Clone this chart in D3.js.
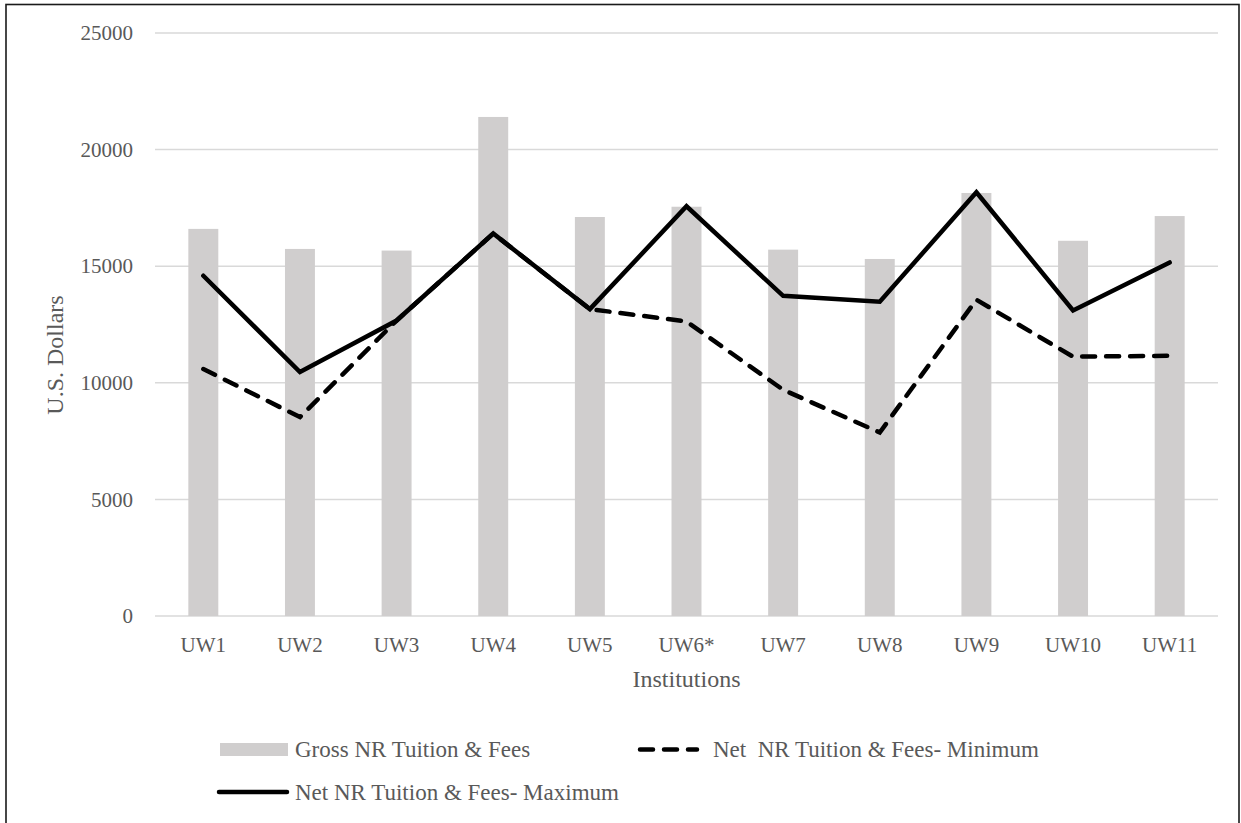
<!DOCTYPE html>
<html>
<head>
<meta charset="utf-8">
<script src="https://cdn.jsdelivr.net/npm/d3@7"></script>
<style>
  html, body { margin: 0; padding: 0; background: #fff; }
  svg { display: block; }
  text { font-family: "Liberation Serif", "Times New Roman", serif; fill: #595959; }
</style>
</head>
<body>
<svg id="chart" width="1241" height="823"></svg>
<script>
// Institutions on the x axis
const categories = ["UW1", "UW2", "UW3", "UW4", "UW5", "UW6*", "UW7", "UW8", "UW9", "UW10", "UW11"];

// Gross non-resident tuition & fees (bars)
const grossFees = [16600, 15740, 15670, 21400, 17110, 17550, 15710, 15310, 18140, 16090, 17150];

// Net non-resident tuition & fees, minimum (dashed line)
const netMin = [10590, 8530, 12670, 16400, 13160, 12630, 9700, 7870, 13560, 11120, 11160];

// Net non-resident tuition & fees, maximum (solid line)
const netMax = [14590, 10460, 12670, 16400, 13160, 17570, 13730, 13480, 18170, 13100, 15160];

// Value axis ticks
const yTicks = [0, 5000, 10000, 15000, 20000, 25000];

const legendLabels = ["Gross NR Tuition & Fees", "Net  NR Tuition & Fees- Minimum", "Net NR Tuition & Fees- Maximum"];

const svg = d3.select("#chart");
const plot = { left: 155, right: 1218, top: 33, bottom: 616 };

const x = d3.scaleBand().domain(categories).range([plot.left, plot.right]).paddingInner(0.69).paddingOuter(0.345);
const y = d3.scaleLinear().domain([0, 25000]).range([plot.bottom, plot.top]);
const cx = d => x(d) + x.bandwidth() / 2;

// outer frame
svg.append("rect")
  .attr("x", 6).attr("y", 4.5).attr("width", 1233).attr("height", 840)
  .attr("fill", "none").attr("stroke", "#1a1a1a").attr("stroke-width", 1.6);

// horizontal gridlines
svg.append("g").selectAll("line").data(yTicks).join("line")
  .attr("x1", plot.left).attr("x2", plot.right)
  .attr("y1", d => y(d)).attr("y2", d => y(d))
  .attr("stroke", "#d9d9d9").attr("stroke-width", 1.5);

// y axis labels
const yAxis = d3.axisLeft(y).tickValues(yTicks).tickSize(0).tickPadding(22).tickFormat(d3.format("d"));
const gy = svg.append("g").attr("transform", `translate(${plot.left},0)`).call(yAxis);
gy.select(".domain").remove();
gy.selectAll("text").attr("font-size", 21).style("font-family", '"Liberation Serif", serif').attr("fill", "#595959");

// x axis labels
const xAxis = d3.axisBottom(x).tickSize(0).tickPadding(0);
const gx = svg.append("g").attr("transform", `translate(0,${plot.bottom})`).call(xAxis);
gx.select(".domain").remove();
gx.selectAll("text").attr("font-size", 21).attr("dy", null).attr("y", 36)
  .style("font-family", '"Liberation Serif", serif').attr("fill", "#595959");

// bars
svg.append("g").selectAll("rect").data(categories).join("rect")
  .attr("x", d => x(d))
  .attr("width", x.bandwidth())
  .attr("y", (d, i) => y(grossFees[i]))
  .attr("height", (d, i) => y(0) - y(grossFees[i]))
  .attr("fill", "#d0cece");

const line = d3.line().x(d => cx(d[0])).y(d => y(d[1]));

// minimum net line (dashed)
svg.append("path")
  .datum(categories.map((c, i) => [c, netMin[i]]))
  .attr("d", line)
  .attr("fill", "none").attr("stroke", "#000").attr("stroke-width", 4.5)
  .attr("stroke-linecap", "round").attr("stroke-dasharray", "13,11");

// maximum net line (solid)
svg.append("path")
  .datum(categories.map((c, i) => [c, netMax[i]]))
  .attr("d", line)
  .attr("fill", "none").attr("stroke", "#000").attr("stroke-width", 4.5)
  .attr("stroke-linecap", "round");

// axis titles
svg.append("text")
  .attr("x", (plot.left + plot.right) / 2).attr("y", 687)
  .attr("text-anchor", "middle").attr("font-size", 24)
  .text("Institutions");

svg.append("text")
  .attr("transform", "translate(63,355) rotate(-90)")
  .attr("text-anchor", "middle").attr("font-size", 24)
  .text("U.S. Dollars");

// legend
const leg = svg.append("g").attr("class", "legend");
leg.append("rect").attr("x", 220).attr("y", 743).attr("width", 68).attr("height", 13).attr("fill", "#d0cece");
leg.append("text").attr("x", 295).attr("y", 757).attr("font-size", 23).style("white-space", "pre").text(legendLabels[0]);

leg.append("line").attr("x1", 640).attr("x2", 697).attr("y1", 749.5).attr("y2", 749.5)
  .attr("stroke", "#000").attr("stroke-width", 4.5).attr("stroke-linecap", "round").attr("stroke-dasharray", "13,11");
leg.append("text").attr("x", 713).attr("y", 757).attr("font-size", 23).style("white-space", "pre").text(legendLabels[1]);

leg.append("line").attr("x1", 219).attr("x2", 287).attr("y1", 792).attr("y2", 792)
  .attr("stroke", "#000").attr("stroke-width", 4.5).attr("stroke-linecap", "round");
leg.append("text").attr("x", 295).attr("y", 800).attr("font-size", 23).style("white-space", "pre").text(legendLabels[2]);
</script>
</body>
</html>
